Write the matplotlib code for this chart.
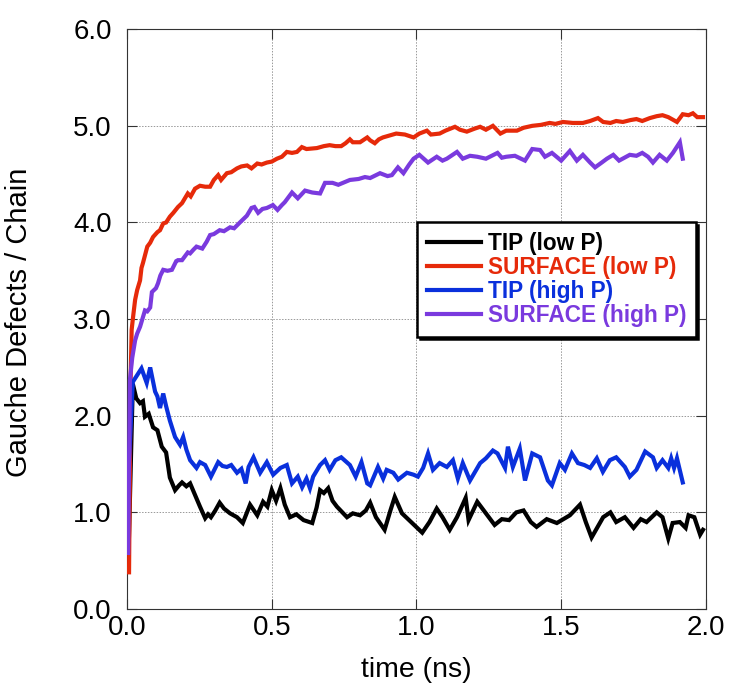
import numpy as np
import matplotlib
matplotlib.use("Agg")
import matplotlib.pyplot as plt
from matplotlib.ticker import FormatStrFormatter

# values, (time in ns, gauche defects / chain)
tip_low = [(0.004, 0.42), (0.02, 2.33), (0.032, 2.18), (0.045, 2.13), (0.055, 2.15),
           (0.062, 1.99), (0.075, 2.02), (0.09, 1.88), (0.105, 1.85), (0.12, 1.68),
           (0.135, 1.62), (0.148, 1.36), (0.166, 1.23), (0.18, 1.28), (0.19, 1.31),
           (0.205, 1.27), (0.218, 1.30), (0.235, 1.18), (0.252, 1.06), (0.27, 0.94),
           (0.28, 0.98), (0.29, 0.95), (0.305, 1.02), (0.32, 1.10), (0.335, 1.04),
           (0.356, 0.99), (0.38, 0.95), (0.40, 0.89), (0.425, 1.08), (0.45, 0.97),
           (0.47, 1.11), (0.485, 1.06), (0.50, 1.23), (0.515, 1.12), (0.53, 1.25),
           (0.545, 1.08), (0.563, 0.95), (0.585, 0.98), (0.61, 0.92), (0.64, 0.89),
           (0.655, 1.05), (0.667, 1.23), (0.68, 1.20), (0.695, 1.25), (0.71, 1.12),
           (0.725, 1.06), (0.76, 0.95), (0.78, 0.99), (0.805, 0.97), (0.825, 1.02),
           (0.84, 1.10), (0.86, 0.95), (0.89, 0.82), (0.91, 1.02), (0.925, 1.16),
           (0.95, 0.99), (0.985, 0.89), (1.02, 0.79), (1.045, 0.90), (1.07, 1.04),
           (1.09, 0.95), (1.115, 0.82), (1.14, 0.95), (1.17, 1.15), (1.18, 0.92),
           (1.21, 1.11), (1.24, 0.99), (1.27, 0.87), (1.295, 0.93), (1.32, 0.92),
           (1.345, 1.00), (1.37, 1.02), (1.395, 0.90), (1.415, 0.85), (1.45, 0.93),
           (1.485, 0.89), (1.53, 0.97), (1.565, 1.08), (1.585, 0.90), (1.605, 0.74),
           (1.645, 0.95), (1.67, 1.00), (1.69, 0.90), (1.72, 0.95), (1.75, 0.84),
           (1.775, 0.93), (1.795, 0.90), (1.83, 1.00), (1.85, 0.95), (1.87, 0.73),
           (1.885, 0.89), (1.91, 0.90), (1.93, 0.84), (1.94, 0.97), (1.96, 0.95),
           (1.98, 0.77), (1.99, 0.82)]

surface_low = [(0.007, 0.38), (0.012, 2.3), (0.016, 2.89), (0.022, 3.05), (0.028, 3.2),
               (0.035, 3.3), (0.045, 3.4), (0.05, 3.53), (0.055, 3.58), (0.07, 3.75),
               (0.08, 3.79), (0.09, 3.85), (0.105, 3.9), (0.114, 3.92), (0.125, 3.99),
               (0.135, 4.0), (0.148, 4.06), (0.16, 4.1), (0.176, 4.16), (0.19, 4.2),
               (0.21, 4.30), (0.22, 4.27), (0.235, 4.35), (0.252, 4.38), (0.27, 4.37),
               (0.287, 4.37), (0.3, 4.44), (0.315, 4.49), (0.325, 4.44), (0.345, 4.51),
               (0.36, 4.52), (0.38, 4.56), (0.395, 4.58), (0.415, 4.59), (0.43, 4.56),
               (0.45, 4.61), (0.465, 4.60), (0.483, 4.62), (0.5, 4.63), (0.518, 4.66),
               (0.535, 4.68), (0.552, 4.73), (0.57, 4.72), (0.587, 4.73), (0.604, 4.78),
               (0.62, 4.76), (0.656, 4.77), (0.68, 4.79), (0.70, 4.80), (0.72, 4.79),
               (0.74, 4.79), (0.755, 4.82), (0.77, 4.86), (0.78, 4.83), (0.805, 4.83),
               (0.83, 4.88), (0.84, 4.85), (0.856, 4.82), (0.87, 4.86), (0.884, 4.88),
               (0.93, 4.92), (0.96, 4.91), (0.99, 4.88), (1.01, 4.92), (1.036, 4.95),
               (1.05, 4.91), (1.08, 4.92), (1.1, 4.95), (1.133, 4.99), (1.15, 4.96),
               (1.174, 4.94), (1.2, 4.97), (1.22, 4.99), (1.24, 4.96), (1.264, 5.0),
               (1.29, 4.92), (1.31, 4.95), (1.347, 4.95), (1.37, 4.98), (1.40, 5.0),
               (1.43, 5.01), (1.46, 5.03), (1.48, 5.02), (1.506, 5.04), (1.54, 5.03),
               (1.575, 5.03), (1.6, 5.05), (1.627, 5.08), (1.645, 5.04), (1.67, 5.03),
               (1.69, 5.05), (1.713, 5.04), (1.74, 5.06), (1.76, 5.07), (1.78, 5.05),
               (1.806, 5.08), (1.83, 5.1), (1.85, 5.11), (1.87, 5.09), (1.90, 5.04),
               (1.92, 5.12), (1.94, 5.11), (1.955, 5.13), (1.97, 5.09), (1.99, 5.09)]

tip_high = [(0.002, 1.23), (0.02, 2.35), (0.035, 2.42), (0.05, 2.49), (0.068, 2.34),
            (0.08, 2.50), (0.097, 2.25), (0.105, 2.2), (0.114, 2.08), (0.125, 2.23),
            (0.135, 2.1), (0.148, 1.95), (0.166, 1.78), (0.183, 1.70), (0.194, 1.78),
            (0.205, 1.65), (0.218, 1.54), (0.24, 1.46), (0.252, 1.52), (0.27, 1.49),
            (0.29, 1.37), (0.315, 1.52), (0.33, 1.48), (0.345, 1.47), (0.36, 1.49),
            (0.38, 1.41), (0.395, 1.45), (0.41, 1.30), (0.42, 1.47), (0.437, 1.57),
            (0.46, 1.41), (0.483, 1.52), (0.505, 1.39), (0.53, 1.46), (0.552, 1.49),
            (0.57, 1.30), (0.59, 1.37), (0.605, 1.26), (0.62, 1.35), (0.632, 1.25),
            (0.643, 1.37), (0.667, 1.49), (0.684, 1.54), (0.70, 1.44), (0.72, 1.54),
            (0.74, 1.57), (0.77, 1.49), (0.79, 1.37), (0.81, 1.52), (0.83, 1.30),
            (0.84, 1.28), (0.867, 1.47), (0.885, 1.35), (0.897, 1.44), (0.92, 1.41),
            (0.937, 1.34), (0.967, 1.41), (0.99, 1.39), (1.005, 1.37), (1.023, 1.46),
            (1.04, 1.61), (1.057, 1.44), (1.08, 1.51), (1.105, 1.47), (1.126, 1.54),
            (1.143, 1.35), (1.16, 1.51), (1.185, 1.33), (1.22, 1.51), (1.24, 1.56),
            (1.264, 1.64), (1.28, 1.61), (1.306, 1.46), (1.316, 1.68), (1.333, 1.47),
            (1.357, 1.66), (1.375, 1.33), (1.40, 1.61), (1.427, 1.57), (1.454, 1.33),
            (1.468, 1.28), (1.495, 1.51), (1.513, 1.44), (1.537, 1.61), (1.558, 1.51),
            (1.58, 1.49), (1.60, 1.46), (1.623, 1.56), (1.644, 1.42), (1.668, 1.54),
            (1.69, 1.57), (1.72, 1.47), (1.737, 1.37), (1.76, 1.44), (1.79, 1.63),
            (1.817, 1.57), (1.83, 1.46), (1.85, 1.54), (1.87, 1.46), (1.88, 1.56),
            (1.89, 1.46), (1.90, 1.56), (1.92, 1.31)]

surface_high = [(0.004, 0.58), (0.01, 2.37), (0.018, 2.6), (0.028, 2.78), (0.035, 2.85),
                (0.045, 2.92), (0.055, 3.02), (0.062, 3.09), (0.07, 3.08), (0.08, 3.12),
                (0.086, 3.28), (0.1, 3.32), (0.107, 3.37), (0.115, 3.45), (0.125, 3.51),
                (0.14, 3.5), (0.155, 3.51), (0.17, 3.6), (0.176, 3.61), (0.19, 3.61),
                (0.21, 3.69), (0.218, 3.68), (0.23, 3.72), (0.24, 3.75), (0.26, 3.73),
                (0.275, 3.8), (0.287, 3.87), (0.3, 3.88), (0.32, 3.92), (0.335, 3.91),
                (0.356, 3.95), (0.37, 3.94), (0.39, 4.0), (0.414, 4.07), (0.43, 4.15),
                (0.44, 4.16), (0.453, 4.10), (0.468, 4.14), (0.483, 4.15), (0.504, 4.18),
                (0.52, 4.13), (0.535, 4.18), (0.545, 4.21), (0.57, 4.31), (0.59, 4.25),
                (0.615, 4.33), (0.64, 4.31), (0.667, 4.30), (0.684, 4.41), (0.71, 4.41),
                (0.73, 4.39), (0.746, 4.41), (0.77, 4.44), (0.8, 4.45), (0.822, 4.47),
                (0.84, 4.46), (0.874, 4.51), (0.9, 4.48), (0.915, 4.49), (0.936, 4.57),
                (0.955, 4.51), (0.975, 4.6), (0.99, 4.66), (1.01, 4.70), (1.04, 4.62),
                (1.07, 4.68), (1.09, 4.64), (1.105, 4.66), (1.14, 4.73), (1.16, 4.66),
                (1.185, 4.69), (1.21, 4.68), (1.24, 4.66), (1.28, 4.72), (1.295, 4.67),
                (1.31, 4.68), (1.34, 4.69), (1.375, 4.64), (1.40, 4.76), (1.427, 4.75),
                (1.444, 4.68), (1.468, 4.72), (1.50, 4.64), (1.53, 4.74), (1.554, 4.64),
                (1.575, 4.70), (1.6, 4.62), (1.617, 4.57), (1.64, 4.62), (1.658, 4.66),
                (1.68, 4.70), (1.70, 4.64), (1.737, 4.70), (1.76, 4.69), (1.78, 4.72),
                (1.80, 4.68), (1.817, 4.62), (1.84, 4.70), (1.865, 4.64), (1.886, 4.72),
                (1.91, 4.83), (1.92, 4.66)]

series = [
    (tip_low, 'TIP (low P)', '#000000'),
    (surface_low, 'SURFACE (low P)', '#e62a0a'),
    (tip_high, 'TIP (high P)', '#0a30dc'),
    (surface_high, 'SURFACE (high P)', '#7a3ade'),
]

plt.rcParams['font.family'] = ['Liberation Sans', 'DejaVu Sans']

fig = plt.figure(figsize=(7.30, 6.87), dpi=100)
ax = fig.add_axes([0.174, 0.1135, 0.793, 0.844])

# draw order so red sits on top near the start
for idx in [2, 3, 0, 1]:
    data, label, color = series[idx]
    arr = np.array(data)
    ax.plot(arr[:, 0], arr[:, 1], color=color, lw=3, label=label,
            solid_joinstyle='miter', zorder=3 + idx * 0.1)

ax.set_xlim(0, 2.0)
ax.set_ylim(0, 6.0)
ax.set_xticks(np.arange(0, 2.01, 0.5))
ax.set_yticks(np.arange(0, 6.01, 1.0))
ax.xaxis.set_major_formatter(FormatStrFormatter('%.1f'))
ax.yaxis.set_major_formatter(FormatStrFormatter('%.1f'))
ax.grid(True, linestyle=(0, (1.5, 1.5)), color='#999999', lw=0.7)
ax.tick_params(direction='in', length=7, width=0.8, top=True, right=True,
               labelsize=20, color='#333333')
ax.tick_params(axis='y', pad=11)
ax.tick_params(axis='x', pad=4)
for sp in ax.spines.values():
    sp.set_color('#333333')
    sp.set_linewidth(0.8)

ax.set_xlabel('time (ns)', fontsize=20.5)
ax.set_ylabel('Gauche Defects / Chain', fontsize=21)
ax.xaxis.set_label_coords(0.5, -0.082)
ax.yaxis.set_label_coords(-0.163, 0.495)

handles, labels = ax.get_legend_handles_labels()
order = [labels.index(s[1]) for s in series]
leg = ax.legend([handles[i] for i in order], [labels[i] for i in order],
                loc='upper left', bbox_to_anchor=(0.501, 0.667), borderaxespad=0,
                fancybox=False, framealpha=1, edgecolor='black',
                shadow={'color': 'black', 'alpha': 1},
                labelcolor='linecolor', handlelength=2.4, handletextpad=0.3,
                labelspacing=0.05, borderpad=0.42,
                prop={'weight': 'bold', 'size': 16.3})
leg.get_frame().set_linewidth(1.8)
for ln in leg.get_lines():
    ln.set_linewidth(3)

fig.savefig('out.png', dpi=100)
